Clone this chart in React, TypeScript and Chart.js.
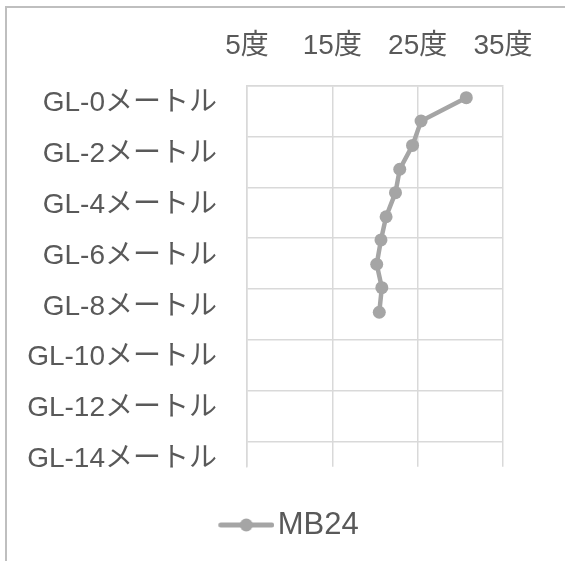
import { useEffect, useRef } from 'react';
import { Chart, registerables } from 'chart.js';

Chart.register(...registerables);

const seriesName = 'MB24';
const temperatures = [30.7, 25.4, 24.4, 22.9, 22.4, 21.3, 20.7, 20.2, 20.8, 20.5];
const depths = [0.47, 1.39, 2.35, 3.29, 4.21, 5.16, 6.07, 7.03, 7.95, 8.92];
const depthTicks = [0, 2, 4, 6, 8, 10, 12, 14];
const tempTicks = [5, 15, 25, 35];

const LINE = '#A5A5A5';
const GRID = '#D9D9D9';
const TEXT = '#595959';
const FONT = "'Liberation Sans', Arial, 'Noto Sans CJK JP', sans-serif";

// Legend icon: transparent left part so the visible line+marker sits where the reference has it.
const ICON_W = 142;
function makeLegendIcon(): HTMLCanvasElement {
  const c = document.createElement('canvas');
  c.width = ICON_W;
  c.height = 16;
  const ctx = c.getContext('2d')!;
  const x0 = ICON_W - 56;
  ctx.strokeStyle = LINE;
  ctx.lineWidth = 5;
  ctx.lineCap = 'round';
  ctx.beginPath();
  ctx.moveTo(x0 + 2.5, 8);
  ctx.lineTo(x0 + 53.5, 8);
  ctx.stroke();
  ctx.fillStyle = LINE;
  ctx.beginPath();
  ctx.arc(x0 + 28, 8, 6.5, 0, Math.PI * 2);
  ctx.fill();
  return c;
}

export default function App() {
  const ref = useRef<HTMLCanvasElement | null>(null);

  useEffect(() => {
    if (!ref.current) return;
    const icon = makeLegendIcon();
    const chart = new Chart(ref.current, {
      type: 'scatter',
      data: {
        datasets: [
          {
            label: seriesName,
            data: temperatures.map((t, i) => ({ x: t, y: depths[i] })),
            showLine: true,
            borderColor: LINE,
            backgroundColor: LINE,
            borderWidth: 4.5,
            pointRadius: 6.5,
            pointBackgroundColor: LINE,
            pointBorderWidth: 0,
            tension: 0,
          },
        ],
      },
      options: {
        animation: false,
        responsive: false,
        events: [],
        layout: { padding: { left: 0, right: 62, top: 0, bottom: 10.5 } },
        font: { family: FONT },
        scales: {
          x: {
            type: 'linear',
            position: 'top',
            min: 5,
            max: 35,
            afterBuildTicks: (s: any) => {
              s.ticks = tempTicks.map((v) => ({ value: v }));
            },
            afterFit: (s: any) => {
              s.height = 85.7;
            },
            ticks: {
              callback: (v: any) => `${v}度`,
              color: TEXT,
              font: { family: FONT, size: 28 },
              padding: 23,
              maxRotation: 0,
            },
            grid: { color: GRID, lineWidth: 1.5, drawTicks: false },
            border: { display: true, color: GRID, width: 1.5 },
          },
          y: {
            type: 'linear',
            reverse: true,
            min: 0,
            max: 15,
            afterBuildTicks: (s: any) => {
              s.ticks = depthTicks.map((v) => ({ value: v }));
            },
            afterFit: (s: any) => {
              s.width = 247;
            },
            ticks: {
              callback: (v: any) => `GL-${v}メートル`,
              color: TEXT,
              font: { family: FONT, size: 28 },
              padding: 30,
              labelOffset: 18,
            },
            grid: { color: GRID, lineWidth: 1.5, drawTicks: false },
            border: { display: true, color: GRID, width: 1.5 },
          },
        },
        plugins: {
          tooltip: { enabled: false },
          legend: {
            position: 'bottom',
            labels: {
              usePointStyle: true,
              pointStyleWidth: 118,
              padding: 42.8,
              color: TEXT,
              font: { family: FONT, size: 31 },
              generateLabels: (c: any) => {
                const items = (Chart.defaults.plugins.legend.labels as any).generateLabels(c);
                items.forEach((it: any) => {
                  it.pointStyle = icon;
                });
                return items;
              },
            },
          },
        },
      } as any,
    });
    return () => chart.destroy();
  }, []);

  return (
    <div style={{ position: 'fixed', left: 0, top: 0, width: 565, height: 561, overflow: 'hidden', background: '#fff' }}>
      <div
        style={{
          position: 'absolute',
          left: 5,
          top: 6,
          width: 700,
          height: 700,
          borderLeft: '2px solid #BFBFBF',
          borderTop: '2px solid #BFBFBF',
        }}
      />
      <canvas ref={ref} width={565} height={561} style={{ position: 'absolute', left: 0, top: 0, width: 565, height: 561 }} />
    </div>
  );
}
